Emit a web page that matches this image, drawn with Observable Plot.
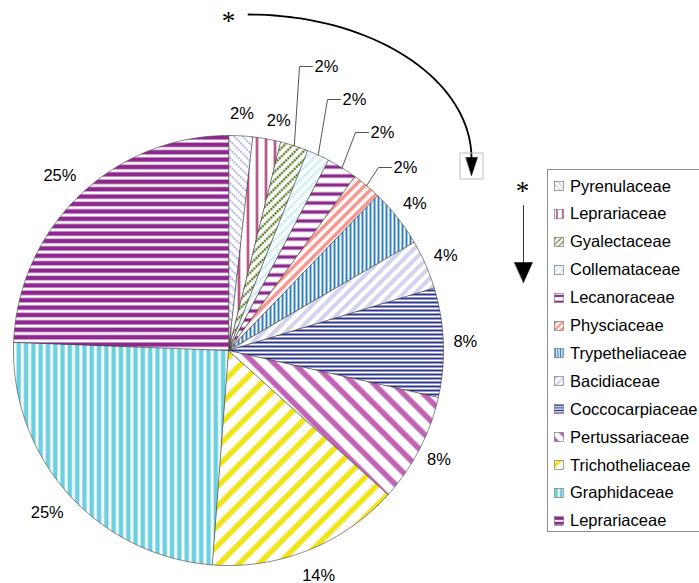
<!DOCTYPE html>
<html><head><meta charset="utf-8">
<script src="https://cdn.jsdelivr.net/npm/d3@7"></script>
<script src="https://cdn.jsdelivr.net/npm/@observablehq/plot@0.6"></script>
<style>
body{margin:0;background:#fff;font-family:Arial,"Liberation Sans",sans-serif}
#wrap{position:relative;width:699px;height:583px;overflow:hidden}
#legend{position:absolute;left:547px;top:169px;width:170px;height:363px;border:1px solid #8c8c8c;box-sizing:border-box;background:#fff}
.row{position:absolute;left:6px;height:20px;display:flex;align-items:center;font-size:16.5px;color:#000;white-space:nowrap;font-family:Arial,"Liberation Sans",sans-serif}
.row svg{margin-right:6px;flex:none}
</style></head><body>
<svg width="0" height="0" style="position:absolute"><defs id="defs"></defs></svg>
<div id="wrap"><div id="chart"></div><div id="legend"></div></div>
<script>
// ---- data ----
const families = ["Pyrenulaceae","Leprariaceae","Gyalectaceae","Collemataceae","Lecanoraceae","Physciaceae","Trypetheliaceae","Bacidiaceae","Coccocarpiaceae","Pertussariaceae","Trichotheliaceae","Graphidaceae","Leprariaceae"];
const shares = [1.8, 2.1, 2.1, 1.7, 2.3, 2.2, 4.4, 3.7, 8.2, 8.2, 14.5, 24.4, 24.4];
const pctLabels = ["2%","2%","2%","2%","2%","2%","4%","4%","8%","8%","14%","25%","25%"];

// ---- styles / layout ----
const patternStyles = [
  {kind:"back", color:"#a9a9de", period:6, width:1.6, dash:true},
  {kind:"vert", color:"#a8306e", period:9, width:2.2},
  {kind:"fwd", color:"#5f7f2c", period:6, width:2.4, dash:true},
  {kind:"fwd", color:"#c4e9f3", period:6, width:2.8, dash:true},
  {kind:"horiz", color:"#8b2b8c", period:9, width:3.5},
  {kind:"fwd", color:"#f4958e", period:7, width:3.6},
  {kind:"vert", color:"#2e7fc6", period:4, width:2},
  {kind:"fwd", color:"#d3d3ef", period:8, width:4},
  {kind:"horiz", color:"#2c3692", period:4, width:2},
  {kind:"back", color:"#c262b4", period:14, width:5.5},
  {kind:"fwd", color:"#f1e41b", period:14, width:5.5},
  {kind:"vert", color:"#6dd0e0", period:7.3, width:4.5},
  {kind:"horiz", color:"#8e288f", period:7.4, width:4.5}
];
const W = 699, H = 583, cx = 228, cy = 350, R = 215;
// elbow points for labels with leader lines (index -> [x,y])
const leaderElbows = {2:[299,66], 3:[327,99], 4:[355,132], 5:[378,167]};
const labelNudge = {1:[8,3]};

// ---- patterns ----
const NS = "http://www.w3.org/2000/svg";
const defs = document.getElementById("defs");
function el(tag, attrs, parent){const e=document.createElementNS(NS,tag);for(const k in attrs)e.setAttribute(k,attrs[k]);parent.appendChild(e);return e;}
function makePattern(id, s, scale){
  const p = s.period, h = s.kind==="horiz" ? p : (s.dash ? 3 : p);
  const pat = el("pattern",{id,patternUnits:"userSpaceOnUse",width:p,height:h}, defs);
  let tr = scale!==1 ? `scale(${scale}) ` : "";
  if (s.kind==="fwd") tr += "rotate(45)";
  if (s.kind==="back") tr += "rotate(-45)";
  if (tr.trim()) pat.setAttribute("patternTransform",tr.trim());
  el("rect",{x:0,y:0,width:p,height:h,fill:"#fff"},pat);
  if (s.kind==="horiz") el("rect",{x:0,y:(p-s.width)/2,width:p,height:s.width,fill:s.color},pat);
  else el("rect",{x:(p-s.width)/2,y:0,width:s.width,height:s.dash?2.2:h,fill:s.color},pat);
}
patternStyles.forEach((s,i)=>{ makePattern("pat"+i, s, 1); makePattern("lpat"+i, s, 0.65); });

// ---- geometry from data ----
const arcs = d3.pie().sort(null).value(d=>d)(shares);
const pt = (a,r)=>({x: cx + r*Math.sin(a), y: cy - r*Math.cos(a)});
const slicePts = [];
arcs.forEach((a,i)=>{
  slicePts.push({i, x:cx, y:cy});
  const n = Math.max(2, Math.ceil((a.endAngle-a.startAngle)/0.01));
  for (let k=0;k<=n;k++){const t=a.startAngle+(a.endAngle-a.startAngle)*k/n; slicePts.push({i, ...pt(t,R)});}
});
const plainLabels = [], leaderLabels = [], leaderPts = [];
arcs.forEach((a,i)=>{
  const mid = (a.startAngle+a.endAngle)/2;
  const txt = pctLabels[i];
  if (leaderElbows[i]) {
    const [ex,ey] = leaderElbows[i];
    const s = pt(mid,R);
    leaderPts.push({i,x:s.x,y:s.y},{i,x:ex,y:ey},{i,x:ex+13,y:ey});
    leaderLabels.push({x:ex+15,y:ey,text:txt});
  } else {
    const p = pt(mid, R + 10 + 6*txt.length);
    const [nx,ny] = labelNudge[i] || [0,0];
    plainLabels.push({x:p.x+nx, y:p.y+ny, text:txt});
  }
});
// curved annotation arrow (quarter ellipse)
const curve = d3.range(0,41).map(k=>{const t=k/40*Math.PI/2;return {x:248+223*Math.sin(t), y:158-144*Math.cos(t)};});
const heads = [
  {g:0,x:465.5,y:157},{g:0,x:477,y:157},{g:0,x:471,y:175},
  {g:1,x:514,y:262},{g:1,x:532,y:262},{g:1,x:523,y:282}
];

const chart = Plot.plot({
  width: W, height: H, margin: 0,
  x: {domain:[0,W], range:[0,W], axis:null},
  y: {domain:[0,H], range:[0,H], axis:null},
  color: {type:"identity"},
  style: {fontFamily:'Arial,"Liberation Sans",sans-serif', background:"#fff"},
  marks: [
    Plot.line(slicePts, {x:"x", y:"y", z:"i", fill: d=>`url(#pat${d.i})`, stroke:"#3a3a3a", strokeWidth:0.6, curve:"linear-closed"}),
    Plot.line(leaderPts, {x:"x", y:"y", z:"i", stroke:"#555", strokeWidth:1}),
    Plot.text(plainLabels, {x:"x", y:"y", text:"text", fontSize:16.5, fill:"#000"}),
    Plot.text(leaderLabels, {x:"x", y:"y", text:"text", fontSize:16.5, fill:"#000", textAnchor:"start"}),
    Plot.line(curve, {x:"x", y:"y", stroke:"#000", strokeWidth:1.8}),
    Plot.rect([{x1:460,x2:483,y1:153,y2:179}], {x1:"x1",x2:"x2",y1:"y1",y2:"y2", fill:"none", stroke:"#bdbdbd", strokeWidth:1}),
    Plot.line([{x:523,y:205},{x:523,y:262}], {x:"x", y:"y", stroke:"#333", strokeWidth:1}),
    Plot.line(heads, {x:"x", y:"y", z:"g", fill:"#000", stroke:"#000", strokeWidth:0.5, curve:"linear-closed"}),
    Plot.text([{x:228,y:21,t:"*"},{x:522,y:191,t:"*"}], {x:"x", y:"y", text:"t", fontSize:27, fontFamily:'"Liberation Serif","DejaVu Serif",serif', fill:"#000"})
  ]
});
document.getElementById("chart").appendChild(chart);

// ---- legend ----
const legend = document.getElementById("legend");
families.forEach((f,i)=>{
  const row = document.createElement("div");
  row.className = "row";
  row.style.top = (6 + i*27.9) + "px";
  const sw = document.createElementNS(NS,"svg");
  sw.setAttribute("width",10); sw.setAttribute("height",10);
  el("rect",{x:0.5,y:0.5,width:9,height:9,fill:`url(#lpat${i})`,stroke:"#666","stroke-width":0.6},sw);
  row.appendChild(sw);
  row.appendChild(document.createTextNode(f));
  legend.appendChild(row);
});
</script>
</body></html>
